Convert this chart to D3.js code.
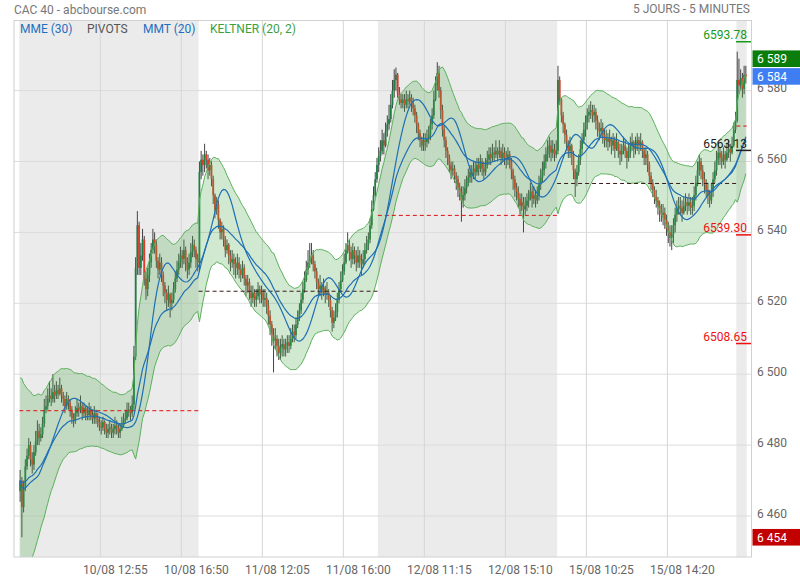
<!DOCTYPE html>
<html><head><meta charset="utf-8">
<script src="https://cdn.jsdelivr.net/npm/d3@7"></script>
<style>body{margin:0;background:#fff;} text{font-family:Roboto,"Noto Sans",sans-serif;}</style>
</head><body><svg id="c" width="800" height="580"></svg>
<script>
// ---------------- DATA ----------------
const firstOpen = 6467;
const closes = [
6470,6462.5,6468,6474,6477,6480,6476,6474.5,6478,6481,
6484,6482,6483,6486,6490,6491,6493,6494,6493,6495,
6494,6495.5,6494.5,6496,6494,6493,6491,6493,6492,6490,
6487.5,6487,6489,6490.5,6490,6491,6489,6490.5,6489,6488.5,
6490,6488.5,6487.5,6489,6487.5,6486.5,6485.5,6485,6486.5,6484.5,
6483.5,6484.5,6485,6483.5,6484.5,6485.5,6485,6483.5,6484.5,6485.5,
6487,6487.5,6489.5,6490,6489,6491.5,6505,6530,6542,6530,
6533.5,6538,6527,6524,6528,6531.5,6535,6538,6536.5,6532,
6529.5,6531.5,6528,6525,6523,6521,6522.5,6520,6521,6524,
6527,6529.5,6531.5,6533.5,6532.5,6535,6531.5,6529.5,6531.5,6534.5,
6536.5,6535,6532.5,6531.5,
6557,6560.5,6559,6562,6560.5,6557.5,6559,6555,6550.5,6546.5,
6548,6543.5,6540,6541,6538,6535,6536.5,6533.5,6531.5,6532.5,
6531,6530,6531.5,6529.5,6528,6530,6527,6525,6526,6523,
6521.5,6523,6521,6522,6524,6522.5,6523,6521,6521.5,6519.5,
6516.5,6514,6511,6509.5,6510,6508,6506,6507.5,6508.5,6507,
6508,6509,6508,6510,6512,6511,6514,6516,6518,6521,
6524,6526.5,6529.5,6531.5,6532.5,6533.5,6531,6529,6526,6524,
6525,6523,6524.5,6522.5,6523,6521,6518,6514.5,6516,6517.5,
6521,6524,6526.5,6529,6531.5,6535,6536.5,6534.5,6532.5,6535,
6533.5,6531.5,6533.5,6532,6531,6532.5,6535,6536.5,6538,6542,
6546.5,6550.5,6555,6559,
6561.5,6563,6566,6564.5,6568.5,6570.5,6572,6576,6580,6583,
6584.5,6579.5,6577.5,6576.5,6577.5,6576,6577.5,6577,6578,6576.5,
6575,6573,6570.5,6568,6566,6564.5,6566,6565.5,6566.5,6567.5,
6570.5,6573,6577.5,6581.5,6585,6580,6574.5,6569,6566,6563,
6561,6559,6557.5,6558,6556,6555,6552.5,6551.5,6549,6550.5,
6552.5,6554,6555.5,6557,6556,6558,6557,6559,6558,6560,
6558,6557,6559,6560.5,6562,6561,6562.5,6562,6563,6562,
6563,6561,6562.5,6561,6560.5,6562,6560,6557.5,6555,6552.5,
6551.5,6549.5,6547.5,6548.5,6546.5,6547.5,6549,6550,6551.5,6549.5,
6550.5,6549,6550.5,6553.5,6555.5,6557.5,6560,6562,6563,6564.5,
6562.5,6563.5,6562,6563,
6583,6577.5,6573,6570.5,6567.5,6565.5,6563,6564.5,6562,6557.5,
6555,6557,6560.5,6563.5,6566,6569,6571,6573,6574,6574.5,
6573,6574,6571.5,6569.5,6568.5,6569.5,6567.5,6566,6566.5,6565.5,
6566.5,6564.5,6566,6563.5,6565.5,6563,6562,6563,6564.5,6563,
6561,6562.5,6564.5,6565.5,6563.5,6564.5,6566,6564.5,6565.5,6563,
6561,6562,6559,6556,6554,6552,6550,6549,6547.5,6546.5,
6545,6545.5,6543.5,6541,6540,6538.5,6539.5,6542,6545,6546.5,
6547.5,6547,6545.5,6547.5,6548.5,6547.5,6548.5,6547,6547.5,6550.5,
6554,6557.5,6560,6557.5,6555,6553.5,6552,6550.5,6549,6551.5,
6555,6557.5,6560.5,6562.5,6561,6560,6562,6560.5,6562.5,6563.5,
6562.5,6564.5,6569,6571.5,
6583,6581.5,6583.5,6580.5,6584.5,6584];
const highs = [
6473,6471,6470,6476,6479,6482,6481,6478,6480,6484,
6487,6486,6485,6488,6493,6494,6496,6498,6496,6500,
6497,6498,6497,6499,6497,6495,6494,6495,6494,6493,
6491,6489,6491,6493,6492,6494,6492,6492,6491,6491,
6492,6491,6490,6491,6490,6489,6488,6487,6488,6487,
6486,6486,6487,6486,6486,6488,6487,6486,6486,6488,
6489,6490,6492,6492,6491,6494,6508,6533,6546,6543,
6537,6541,6539,6529,6530,6534,6537,6541,6540,6538,
6533,6534,6533,6529,6526,6524,6525,6523,6523,6526,
6529,6532,6534,6536,6535,6538,6536,6533,6534,6537,
6539,6538,6536,6534,
6560,6563,6562,6565,6563,6562,6561,6560,6556,6551,
6550,6549,6544,6543,6542,6539,6538,6537,6535,6535,
6534,6533,6534,6533,6531,6532,6531,6528,6528,6527,
6525,6525,6524,6524,6526,6525,6525,6524,6524,6523,
6521,6518,6515,6513,6513,6511,6510,6510,6511,6510,
6510,6511,6511,6513,6514,6514,6516,6518,6520,6523,
6526,6529,6532,6535,6537,6537,6535,6532,6530,6527,
6528,6526,6527,6525,6526,6524,6522,6519,6518,6520,
6523,6526,6529,6531,6534,6537,6540,6538,6536,6537,
6536,6535,6536,6535,6534,6535,6537,6539,6540,6544,
6549,6553,6557,6561,
6564,6566,6569,6568,6571,6573,6576,6579,6583,6586,
6586.5,6585,6581,6579,6579,6579,6580,6579,6580,6579,
6578,6576,6574,6571,6569,6567,6568,6568,6569,6570,
6572,6575,6580,6584,6588,6587,6581,6576,6570,6567,
6564,6562,6560,6560,6559,6557,6556,6554,6553,6553,
6555,6556,6558,6559,6559,6560,6560,6561,6561,6562,
6561,6560,6561,6563,6564,6564,6565,6564,6566,6564,
6566,6564,6565,6564,6563,6564,6563,6561,6558,6556,
6554,6553,6551,6551,6550,6550,6551,6552,6554,6553,
6553,6552,6553,6556,6558,6560,6562,6564,6566,6567,
6566,6566,6565,6566,
6587,6584,6578,6574,6571,6569,6566,6567,6565,6563,
6558,6559,6562,6566,6568,6571,6573,6575,6576,6577,
6576,6576,6575,6573,6571,6572,6571,6569,6569,6568,
6569,6567,6568,6567,6568,6566,6565,6565,6567,6566,
6564,6565,6567,6568,6566,6567,6568,6567,6568,6566,
6564,6564,6563,6560,6557,6555,6553,6552,6550,6549,
6548,6548,6547,6545,6543,6542,6542,6544,6547,6549,
6550,6550,6549,6550,6551,6550,6551,6550,6550,6553,
6556,6560,6562,6561,6559,6557,6555,6554,6552,6554,
6557,6560,6563,6565,6564,6563,6564,6563,6565,6566,
6565,6567,6571,6574,
6591,6589,6586,6585,6587,6587];
const lows = [
6464,6454,6461,6467,6473,6476,6474,6472,6473,6477,
6480,6480,6481,6482,6485,6489,6490,6492,6491,6492,
6492,6493,6493,6494,6492,6491,6489,6490,6490,6488,
6486,6485,6486,6488,6488,6489,6487,6488,6487,6487,
6487,6487,6486,6486,6486,6485,6484,6483,6484,6483,
6482,6482,6483,6482,6482,6483,6483,6482,6482,6484,
6485,6486,6487,6488,6487,6488,6490,6504,6528,6528,
6528,6532,6525,6521,6522,6526,6530,6534,6534,6530,
6527,6528,6526,6522,6520,6518,6519,6516,6518,6520,
6523,6526,6528,6530,6530,6531,6529,6527,6528,6530,
6533,6533,6530,6529,
6529,6555,6556,6557,6558,6555,6556,6553,6548,6544,
6545,6541,6538,6538,6536,6533,6534,6531,6529,6530,
6528,6527,6528,6527,6526,6527,6525,6522,6523,6521,
6519,6520,6519,6519,6521,6520,6520,6519,6519,6517,
6514,6511,6508,6500.5,6507,6505,6504,6504,6505,6505,
6505,6506,6506,6507,6509,6509,6510,6513,6515,6517,
6520,6523,6526,6528,6530,6531,6529,6527,6524,6522,
6522,6521,6522,6520,6521,6519,6516,6512,6513,6515,
6516,6520,6523,6526,6528,6531,6534,6532,6530,6531,
6531,6529,6530,6530,6528,6530,6531,6534,6535,6537,
6541,6546,6550,6554,
6557,6560,6562,6562,6564,6567,6569,6571,6575,6578,
6580,6578,6576,6575,6575,6574,6575,6575,6576,6574,
6573,6571,6568,6566,6564,6563,6563,6563,6564,6565,
6566,6569,6572,6577,6580,6578,6572,6567,6564,6561,
6559,6557,6555,6556,6554,6552,6550,6549,6543,6547,
6549,6551,6553,6554,6554,6555,6555,6556,6556,6557,
6556,6555,6556,6558,6559,6559,6560,6560,6561,6560,
6561,6559,6560,6559,6558,6559,6558,6555,6552,6550,
6549,6547,6545,6546,6540,6545,6546,6547,6549,6547,
6548,6547,6548,6549,6552,6554,6556,6558,6560,6561,
6560,6561,6560,6561,
6562,6576,6571,6568,6565,6563,6561,6561,6559,6555,
6550,6553,6556,6559,6562,6565,6567,6569,6571,6572,
6571,6571,6569,6567,6566,6567,6565,6564,6564,6563,
6564,6562,6563,6561,6563,6561,6559,6560,6562,6561,
6558,6560,6561,6563,6561,6562,6563,6562,6563,6561,
6559,6559,6557,6554,6552,6550,6548,6547,6545,6543,
6543,6542,6541,6539,6537,6536,6535,6537,6540,6543,
6545,6545,6543,6545,6546,6545,6546,6545,6545,6546,
6549,6553,6556,6555,6553,6551,6550,6548,6547,6548,
6550,6554,6556,6559,6559,6558,6559,6558,6560,6561,
6560,6562,6564,6568,
6571,6579,6580,6578,6579,6582];

const barsPerDay = 104;
const pivotLevels = [6489.7, 6523.4, 6544.8, 6553.8, 6570.0];
const pivotColors = ["#e01010", "#3a1a1a", "#e01010", "#3a1a1a", "#e01010"];
const tickBars = [47, 94, 141, 188, 235, 282, 329, 376];
const tickLabels = ["10/08 12:55","10/08 16:50","11/08 12:05","11/08 16:00","12/08 11:15","12/08 15:10","15/08 10:25","15/08 14:20"];
const yTicks = [6460, 6480, 6500, 6520, 6540, 6560, 6580];
const levelValues = [6593.78, 6563.13, 6539.30, 6508.65];
const levelColors = ["#1a9a1a", "#222222", "#ee1111", "#ee1111"];
const badgeValues = [6589, 6584, 6454];
const badgeColors = ["#0a7d0a", "#3f7ef2", "#c20000"];
const legendItems = ["MME (30)", "PIVOTS", "MMT (20)", "KELTNER (20, 2)"];
const legendColors = ["#1f6fc0", "#555555", "#1f6fc0", "#3d9e3d"];
const kcPeriod = 20, kcMult = 2, mmePeriod = 30, mmtPeriod = 20;
const atrStart = 15;

// ---------------- INDICATORS ----------------
const N = closes.length;
const opens = closes.map((c, i) => i === 0 ? firstOpen : closes[i - 1]);
const aK = 2 / (kcPeriod + 1);
const mid = [], atr = [], kUp = [], kLo = [];
for (let i = 0; i < N; i++) {
  const tp = (highs[i] + lows[i] + closes[i]) / 3;
  const pc = i === 0 ? opens[0] : closes[i - 1];
  const tr = Math.max(highs[i] - lows[i], Math.abs(highs[i] - pc), Math.abs(lows[i] - pc));
  mid[i] = i === 0 ? tp : mid[i - 1] + aK * (tp - mid[i - 1]);
  atr[i] = i === 0 ? atrStart : atr[i - 1] + aK * (tr - atr[i - 1]);
  kUp[i] = mid[i] + kcMult * atr[i];
  kLo[i] = mid[i] - kcMult * atr[i];
}
const aE = 2 / (mmePeriod + 1);
const mme = [];
closes.forEach((c, i) => { mme[i] = i === 0 ? c : mme[i - 1] + aE * (c - mme[i - 1]); });
function sma(arr, n) { return arr.map((v, i) => d3.mean(arr.slice(Math.max(0, i - n + 1), i + 1))); }
const mmt = sma(sma(closes, Math.ceil(mmtPeriod / 2)), Math.floor(mmtPeriod / 2) + 1);

// ---------------- CHART ----------------
const svg = d3.select("#c");
const L = 14, R = 751.5, T = 20.5, B = 557;
const x = d3.scaleLinear().domain([0, N]).range([19.3, 746.7]);
const y = d3.scaleLinear().domain([6460, 6580]).range([516, 90.6]);
const cx = i => x(i + 0.5);

svg.append("defs").append("clipPath").attr("id", "clip")
  .append("rect").attr("x", L).attr("y", T).attr("width", R - L).attr("height", B - T);
const g = svg.append("g").attr("clip-path", "url(#clip)");

// day shading
const nDays = Math.ceil(N / barsPerDay);
for (let d = 0; d < nDays; d += 2) {
  const x0 = x(d * barsPerDay), x1 = x(Math.min((d + 1) * barsPerDay, N));
  g.append("rect").attr("x", x0).attr("y", T).attr("width", x1 - x0).attr("height", B - T).attr("fill", "#ebebeb");
}
// grid
yTicks.forEach(v => g.append("line").attr("x1", L).attr("x2", R).attr("y1", y(v)).attr("y2", y(v)).attr("stroke", "#dcdcdc"));
tickBars.forEach(b => g.append("line").attr("x1", x(b)).attr("x2", x(b)).attr("y1", T).attr("y2", B).attr("stroke", "#d6d6d6"));

// candles
const cg = g.append("g");
for (let i = 0; i < N; i++) {
  const o = opens[i], c = closes[i];
  cg.append("line").attr("x1", cx(i)).attr("x2", cx(i)).attr("y1", y(highs[i])).attr("y2", y(lows[i]))
    .attr("stroke", "#444").attr("stroke-width", 1);
  const yt = y(Math.max(o, c)), yb = y(Math.min(o, c));
  cg.append("rect").attr("x", cx(i) - 0.9).attr("width", 1.8)
    .attr("y", yt).attr("height", Math.max(1, yb - yt))
    .attr("fill", c >= o ? "#1f7f43" : "#e03a28");
}

// keltner band
const idx = d3.range(N);
g.append("path").datum(idx)
  .attr("d", d3.area().x(i => cx(i)).y0(i => y(kLo[i])).y1(i => y(kUp[i])))
  .attr("fill", "rgba(76,170,76,0.26)");
[kUp, kLo].forEach(arr => g.append("path").datum(idx)
  .attr("d", d3.line().x(i => cx(i)).y(i => y(arr[i])))
  .attr("fill", "none").attr("stroke", "#5bb05b").attr("stroke-width", 1));

// pivots
pivotLevels.forEach((p, d) => {
  const x0 = x(d * barsPerDay), x1 = x(Math.min((d + 1) * barsPerDay, N));
  g.append("line").attr("x1", x0).attr("x2", x1).attr("y1", y(p)).attr("y2", y(p))
    .attr("stroke", pivotColors[d]).attr("stroke-width", 1).attr("stroke-dasharray", "4,3");
});

// moving averages
[mme, mmt].forEach(arr => g.append("path").datum(idx)
  .attr("d", d3.line().x(i => cx(i)).y(i => y(arr[i])))
  .attr("fill", "none").attr("stroke", "#1f6fb4").attr("stroke-width", 1.2));

// border
svg.append("rect").attr("x", L).attr("y", T).attr("width", R - L).attr("height", B - T)
  .attr("fill", "none").attr("stroke", "#d0d0d0");

// right level labels
levelValues.forEach((v, k) => {
  svg.append("line").attr("x1", 736).attr("x2", 751).attr("y1", y(v)).attr("y2", y(v))
    .attr("stroke", levelColors[k]).attr("stroke-width", 1.5);
  svg.append("text").attr("x", 747).attr("y", y(v) - 2.5).attr("text-anchor", "end")
    .attr("font-size", 12).attr("fill", levelColors[k]).text(d3.format(".2f")(v));
});

// y axis labels
const fmt = d3.formatLocale({decimal: ",", thousands: "\u00a0", grouping: [3], currency: ["", ""]}).format(",d");
yTicks.forEach(v => svg.append("text").attr("x", 757).attr("y", y(v) + 1.6)
  .attr("font-size", 12).attr("fill", "#666").text(fmt(v)));

// badges
badgeValues.forEach((v, k) => {
  const yc = y(v);
  svg.append("rect").attr("x", 752.5).attr("y", yc - 8.3).attr("width", 47.5).attr("height", 16.6).attr("fill", badgeColors[k]);
  svg.append("text").attr("x", 757).attr("y", yc + 4.3).attr("font-size", 12).attr("fill", "#fff").text(fmt(v));
});

// x labels
tickBars.forEach((b, k) => svg.append("text").attr("x", x(b) + 15).attr("y", 574)
  .attr("text-anchor", "middle").attr("font-size", 12).attr("fill", "#666").text(tickLabels[k]));

// titles
svg.append("text").attr("x", 14).attr("y", 13.5).attr("font-size", 12).attr("fill", "#777").text("CAC 40 - abcbourse.com");
svg.append("text").attr("x", 750).attr("y", 13).attr("text-anchor", "end").attr("font-size", 12).attr("fill", "#777").text("5 JOURS - 5 MINUTES");

// legend
const legX = [20, 87, 143, 210];
legendItems.forEach((t, k) => svg.append("text").attr("x", legX[k]).attr("y", 33)
  .attr("font-size", 12).attr("fill", legendColors[k]).text(t));
</script></body></html>
